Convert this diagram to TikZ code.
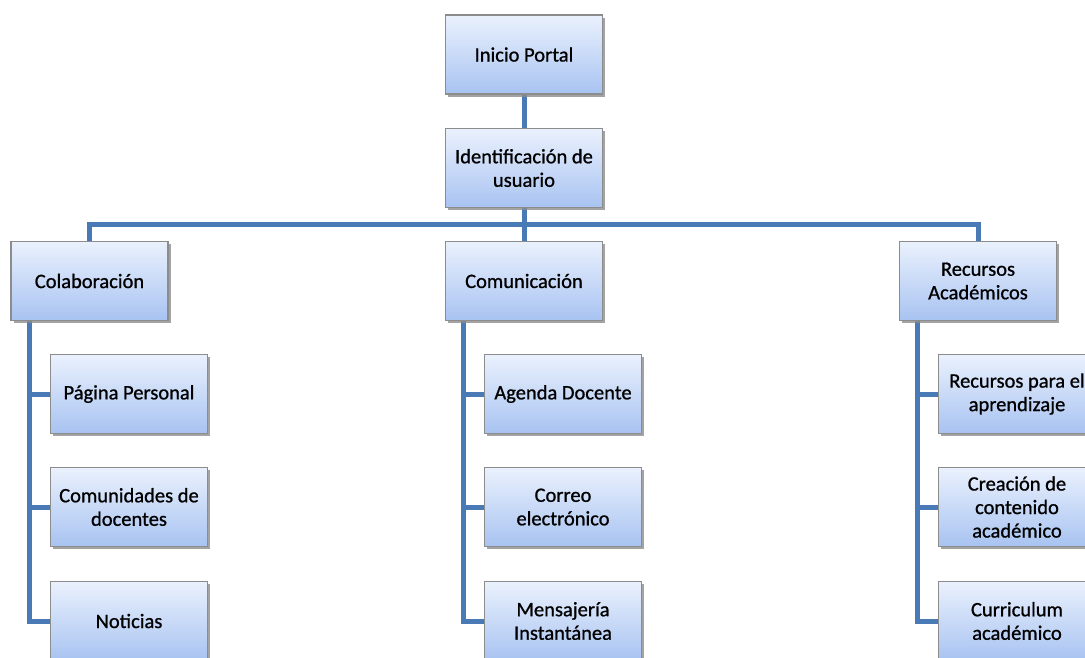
\documentclass[tikz,border=0pt]{standalone}
\usepackage{fontspec}
\setmainfont{Carlito}
\newfontfamily\boxfont[FakeBold=0.9]{Carlito}
\usetikzlibrary{shadows,backgrounds}
\definecolor{boxtop}{HTML}{EAF1FD}
\definecolor{boxbot}{HTML}{A8C3F1}
\definecolor{boxedge}{HTML}{8C8C8C}
\definecolor{linkcol}{HTML}{4A7AB5}
\tikzset{
  orgbox/.style={draw=boxedge, line width=1.2pt, top color=boxtop, bottom color=boxbot,
    minimum width=157pt, minimum height=79pt, inner sep=2pt, align=center,
    font=\boxfont\fontsize{20.5}{23.5}\selectfont, text=black,
    drop shadow={shadow xshift=2.5pt, shadow yshift=-2.5pt, fill=black!45, opacity=0.8}},
  link/.style={draw=linkcol, line width=5pt, line join=miter},
}
\begin{document}
\begin{tikzpicture}[x=1pt,y=-1pt]
\useasboundingbox (0,0) rectangle (1085,657);
\clip (0,0) rectangle (1085,657);
% top of the tree
\node[orgbox] (inicio) at (524,54.5) {Inicio Portal};
\node[orgbox] (ident) at (524,168) {Identificación de\\usuario};
% second level
\node[orgbox] (colab) at (89.5,281) {Colaboración};
\node[orgbox] (comun) at (524,281) {Comunicación};
\node[orgbox] (recur) at (978,281) {Recursos\\Académicos};
% leaves
\node[orgbox] (pag) at (129,394) {Página Personal};
\node[orgbox] (comd) at (129,507) {Comunidades de\\docentes};
\node[orgbox] (noti) at (129,621) {Noticias};
\node[orgbox] (agen) at (563,394) {Agenda Docente};
\node[orgbox] (corr) at (563,507) {Correo\\electrónico};
\node[orgbox] (mens) at (563,621) {Mensajería\\Instantánea};
\node[orgbox] (rapr) at (1017,394) {Recursos para el\\aprendizaje};
\node[orgbox] (crea) at (1017,507) {Creación de\\contenido\\académico};
\node[orgbox] (curr) at (1017,621) {Curriculum\\académico};
% junction points
\coordinate (bus) at (524,224);
\coordinate (spA) at (29,320);
\coordinate (spB) at (463,320);
\coordinate (spC) at (917,320);
% connectors, behind the boxes
\begin{scope}[on background layer]
\draw[link] (inicio.south) -- (ident.north);
\draw[link] (ident.south) -- (comun.north);
\draw[link] (colab.north) |- (bus) -| (recur.north);
\foreach \s/\a/\b/\c in {spA/pag/comd/noti, spB/agen/corr/mens, spC/rapr/crea/curr}{
  \draw[link] (\s) |- (\a.west);
  \draw[link] (\s) |- (\b.west);
  \draw[link] (\s) |- (\c.west);
}
\end{scope}
\end{tikzpicture}
\end{document}
